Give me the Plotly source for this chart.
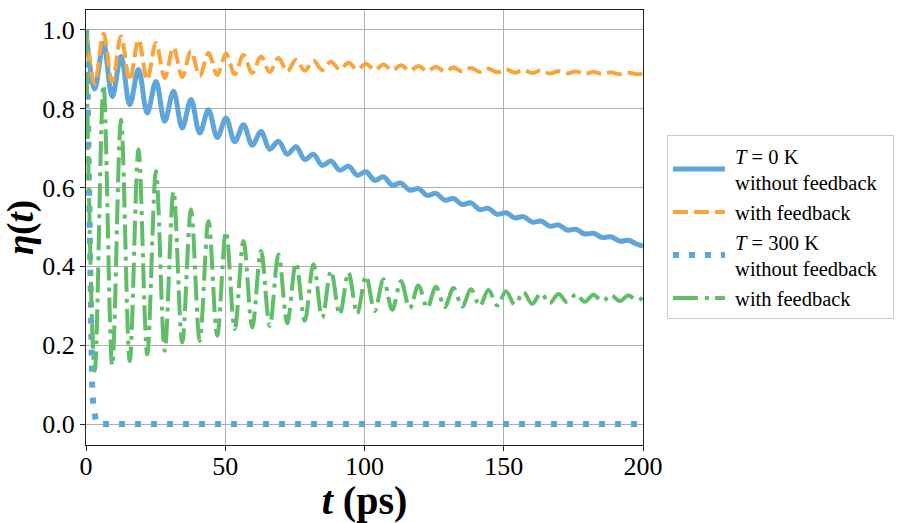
import plotly.graph_objects as go

# Times of the read-off extrema (ps)
t_ext = [0.0, 3.14, 6.28, 9.42, 12.57, 15.71, 18.85, 21.99, 25.13, 28.27,
         31.42, 34.56, 37.70, 40.84, 43.98, 47.12, 50.27, 53.41, 56.55, 59.69,
         62.83, 65.97, 69.12, 72.26, 75.40, 78.54, 81.68, 84.82, 87.96, 91.11,
         94.25, 97.39, 100.53, 103.67, 106.81, 109.96, 113.10, 116.24, 119.38, 122.52,
         125.66, 128.81, 131.95, 135.09, 138.23, 141.37, 144.51, 147.65, 150.80, 153.94,
         157.08, 160.22, 163.36, 166.50, 169.65, 172.79, 175.93, 179.07, 182.21, 185.35,
         188.50, 191.64, 194.78, 197.92, 200.0]

eta_T0_nofb = [1.000, 0.850, 0.966, 0.830, 0.932, 0.810, 0.899, 0.789, 0.869, 0.768,
               0.844, 0.751, 0.823, 0.738, 0.797, 0.727, 0.776, 0.716, 0.759, 0.707,
               0.742, 0.697, 0.717, 0.684, 0.703, 0.671, 0.684, 0.656, 0.667, 0.644,
               0.654, 0.631, 0.640, 0.618, 0.627, 0.606, 0.611, 0.593, 0.597, 0.580,
               0.585, 0.568, 0.572, 0.557, 0.561, 0.544, 0.547, 0.532, 0.536, 0.523,
               0.526, 0.512, 0.515, 0.502, 0.505, 0.492, 0.494, 0.482, 0.484, 0.473,
               0.475, 0.464, 0.466, 0.456, 0.451]

eta_T0_fb = [1.000, 0.862, 0.990, 0.868, 0.983, 0.870, 0.975, 0.873, 0.966, 0.878,
             0.955, 0.880, 0.946, 0.883, 0.941, 0.885, 0.940, 0.887, 0.936, 0.890,
             0.932, 0.892, 0.928, 0.894, 0.924, 0.896, 0.921, 0.898, 0.919, 0.899,
             0.916, 0.899, 0.914, 0.898, 0.912, 0.897, 0.910, 0.896, 0.908, 0.895,
             0.906, 0.894, 0.904, 0.894, 0.903, 0.893, 0.901, 0.892, 0.900, 0.891,
             0.898, 0.890, 0.897, 0.889, 0.895, 0.889, 0.894, 0.888, 0.893, 0.888,
             0.892, 0.887, 0.891, 0.887, 0.889]

t_T300_nofb = [0.0, 0.25, 0.5, 0.75, 1.0, 1.3, 1.6, 1.9, 2.2, 2.6, 3.0, 3.6, 5.0, 200.0]
eta_T300_nofb = [1.0, 0.97, 0.90, 0.77, 0.60, 0.42, 0.28, 0.17, 0.10, 0.05, 0.02, 0.006, 0.0, 0.0]

eta_T300_fb = [1.000, 0.135, 0.860, 0.148, 0.772, 0.160, 0.696, 0.177, 0.641, 0.186,
               0.591, 0.207, 0.544, 0.211, 0.515, 0.224, 0.489, 0.241, 0.464, 0.245,
               0.439, 0.249, 0.430, 0.256, 0.410, 0.262, 0.405, 0.270, 0.388, 0.278,
               0.384, 0.280, 0.375, 0.287, 0.367, 0.290, 0.363, 0.293, 0.352, 0.295,
               0.348, 0.297, 0.345, 0.298, 0.342, 0.300, 0.340, 0.301, 0.337, 0.303,
               0.334, 0.305, 0.332, 0.307, 0.330, 0.309, 0.329, 0.310, 0.328, 0.311,
               0.327, 0.312, 0.326, 0.313, 0.322]

x_ticks = [0, 50, 100, 150, 200]
y_ticks = [0.0, 0.2, 0.4, 0.6, 0.8, 1.0]
legend_names = ["&nbsp;<i>T</i> = 0 K<br>&nbsp;without feedback&nbsp;&nbsp;", "&nbsp;with feedback",
                "&nbsp;<i>T</i> = 300 K<br>&nbsp;without feedback&nbsp;&nbsp;", "&nbsp;with feedback"]

BLUE = "#5DA5DA"
ORANGE = "#FAA43A"
GREEN = "#60BD68"
FONT = "Liberation Serif"

fig = go.Figure()
fig.add_trace(go.Scatter(x=t_ext, y=eta_T0_nofb, mode="lines", name=legend_names[0],
                         line=dict(color=BLUE, width=5, shape="spline", smoothing=1)))
fig.add_trace(go.Scatter(x=t_ext, y=eta_T0_fb, mode="lines", name=legend_names[1],
                         line=dict(color=ORANGE, width=4, dash="15px,6px", shape="spline", smoothing=1)))
fig.add_trace(go.Scatter(x=t_T300_nofb, y=eta_T300_nofb, mode="lines", name=legend_names[2],
                         line=dict(color=BLUE, width=6, dash="6px,10px", shape="linear")))
fig.add_trace(go.Scatter(x=t_ext, y=eta_T300_fb, mode="lines", name=legend_names[3],
                         line=dict(color=GREEN, width=4, dash="25px,7px,4px,6px", shape="spline", smoothing=1)))

axis_common = dict(showline=True, mirror=True, linecolor="#222222", linewidth=1,
                   showgrid=True, gridcolor="#b0b0b0", gridwidth=1,
                   ticks="outside", ticklen=5, tickcolor="#222222", automargin=False,
                   tickfont=dict(family=FONT, size=26, color="black"), zeroline=False)

fig.update_xaxes(range=[0, 200], tickvals=x_ticks, ticktext=[str(v) for v in x_ticks],
                 ticklabelstandoff=-7,
                 title=dict(text="<b><i>t</i> (ps)</b>", font=dict(family=FONT, size=40, color="black"),
                            standoff=4),
                 **axis_common)
fig.update_yaxes(range=[-0.053, 1.05], tickvals=y_ticks, ticktext=[f"{v:.1f}" for v in y_ticks],
                 title=dict(text="<b><i>η</i>(<i>t</i>)</b>", font=dict(family=FONT, size=37, color="black"),
                            standoff=16),
                 **axis_common)

fig.update_layout(
    width=902, height=523,
    margin=dict(l=86, r=259, t=10, b=78, autoexpand=False),
    paper_bgcolor="white", plot_bgcolor="white",
    font=dict(family=FONT, color="black"),
    legend=dict(x=1.043, y=0.713, xanchor="left", yanchor="top",
                font=dict(family=FONT, size=20.5, color="black"),
                bordercolor="#cccccc", borderwidth=1, bgcolor="white",
                itemwidth=52, tracegroupgap=0),
    showlegend=True,
)

fig.write_html("out.html", post_script="document.body.style.margin='0px';",
               config={"displayModeBar": False})
